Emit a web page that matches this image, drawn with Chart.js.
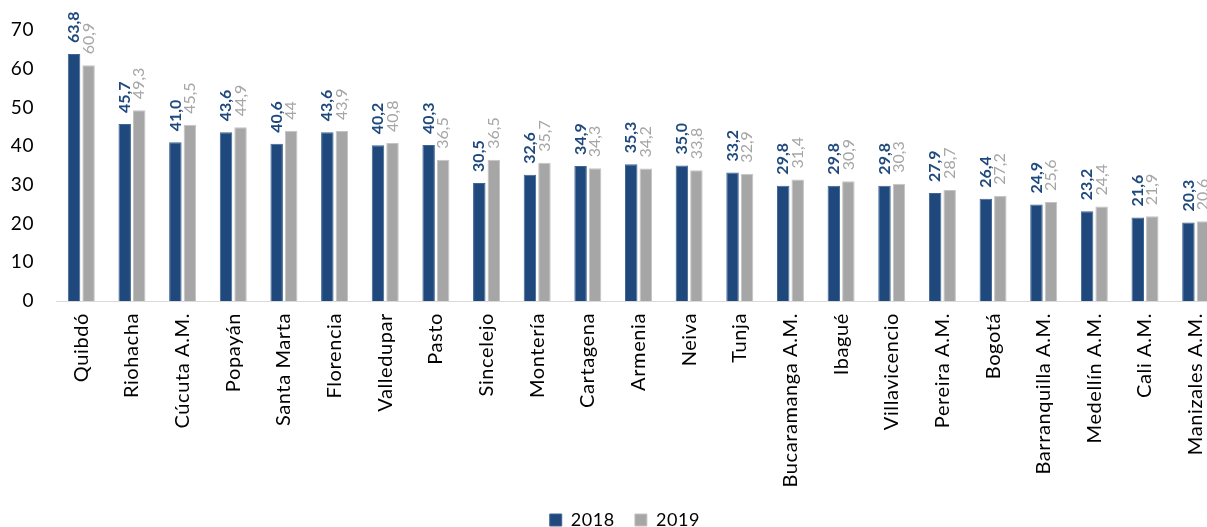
<!DOCTYPE html>
<html>
<head>
<meta charset="utf-8">
<script src="https://cdn.jsdelivr.net/npm/chart.js@4/dist/chart.umd.min.js"></script>
<style>
  html, body { margin: 0; padding: 0; background: #fff; overflow: hidden; }
  #wrap { position: relative; width: 1230px; height: 539px; }
</style>
</head>
<body>
<div id="wrap"><canvas id="chart"></canvas></div>
<script>
// Ciudades, ordenadas como en el gráfico
const cities = [
  'Quibdó', 'Riohacha', 'Cúcuta A.M.', 'Popayán', 'Santa Marta', 'Florencia',
  'Valledupar', 'Pasto', 'Sincelejo', 'Montería', 'Cartagena', 'Armenia',
  'Neiva', 'Tunja', 'Bucaramanga A.M.', 'Ibagué', 'Villavicencio',
  'Pereira A.M.', 'Bogotá', 'Barranquilla A.M.', 'Medellín A.M.', 'Cali A.M.',
  'Manizales A.M.'
]
const values2018 = [
  63.8, 45.7, 41.0, 43.6, 40.6, 43.6, 40.2, 40.3, 30.5, 32.6, 34.9, 35.3,
  35.0, 33.2, 29.8, 29.8, 29.8, 27.9, 26.4, 24.9, 23.2, 21.6, 20.3
]
const values2019 = [
  60.9, 49.3, 45.5, 44.9, 44, 43.9, 40.8, 36.5, 36.5, 35.7, 34.3, 34.2,
  33.8, 32.9, 31.4, 30.9, 30.3, 28.7, 27.2, 25.6, 24.4, 21.9, 20.6
]
const yTicks = [0, 10, 20, 30, 40, 50, 60, 70]

const BLUE = '#1F497D'
const GRAY = '#A6A6A6'
const FONT = 'Lato, "Open Sans", sans-serif'

// Texto de ejes y leyenda un poco espaciado, como en el original
const spacedText = {
  id: 'spacedText',
  afterLayout(chart) {
    // la leyenda del original queda algo a la derecha del centro
    chart.legend.left += 12
    chart.legend.right += 12
  },
  beforeDraw(chart) {
    chart.ctx.letterSpacing = '0.6px'
  },
  beforeDatasetsDraw(chart) {
    chart.ctx.letterSpacing = '0px'
  }
}

// Etiquetas verticales encima de cada barra
const barLabels = {
  id: 'barLabels',
  afterDatasetsDraw(chart) {
    const ctx = chart.ctx
    chart.data.datasets.forEach((ds, i) => {
      const meta = chart.getDatasetMeta(i)
      ctx.save()
      ctx.letterSpacing = '0px'
      ctx.fillStyle = ds.labelColor
      ctx.font = ds.labelFont
      ctx.textAlign = 'left'
      ctx.textBaseline = 'middle'
      meta.data.forEach((bar, j) => {
        const text = ds.formatLabel(ds.data[j])
        ctx.save()
        ctx.translate(bar.x, bar.y - 11)
        ctx.rotate(-Math.PI / 2)
        ctx.fillText(text, 0, 0)
        ctx.restore()
      })
      ctx.restore()
    })
  }
}

new Chart(document.getElementById('chart'), {
  type: 'bar',
  data: {
    labels: cities,
    datasets: [
      {
        label: '2018',
        data: values2018,
        backgroundColor: BLUE,
        borderColor: '#3f6592',
        borderWidth: 1,
        labelColor: BLUE,
        labelFont: 'bold 16px ' + FONT,
        formatLabel: v => v.toFixed(1).replace('.', ',')
      },
      {
        label: '2019',
        data: values2019,
        backgroundColor: GRAY,
        borderColor: '#c4c4c4',
        borderWidth: 1,
        labelColor: GRAY,
        labelFont: '16px ' + FONT,
        formatLabel: v => String(v).replace('.', ',')
      }
    ]
  },
  options: {
    responsive: true,
    maintainAspectRatio: false,
    animation: false,
    categoryPercentage: 0.573,
    barPercentage: 0.86,
    layout: {
      padding: { top: 30, right: 9, left: 0, bottom: 0 }
    },
    plugins: {
      legend: {
        position: 'bottom',
        labels: {
          color: '#000',
          font: { family: FONT, size: 18 },
          boxWidth: 12,
          boxHeight: 12,
          padding: 20
        }
      },
      tooltip: { enabled: false }
    },
    scales: {
      x: {
        grid: { display: false },
        border: { display: true, color: '#D9D9D9', width: 1 },
        ticks: {
          color: '#000',
          font: { family: FONT, size: 20 },
          minRotation: 90,
          maxRotation: 90,
          autoSkip: false,
          padding: 4
        },
        afterFit(scale) {
          scale.height = 190
        }
      },
      y: {
        min: 0,
        max: 70,
        grid: { display: false },
        border: { display: false },
        afterBuildTicks(scale) {
          scale.ticks = yTicks.map(v => ({ value: v }))
        },
        ticks: {
          color: '#000',
          font: { family: FONT, size: 19 },
          padding: 14
        },
        afterFit(scale) {
          scale.width = 56
        }
      }
    }
  },
  plugins: [spacedText, barLabels]
})
</script>
</body>
</html>
